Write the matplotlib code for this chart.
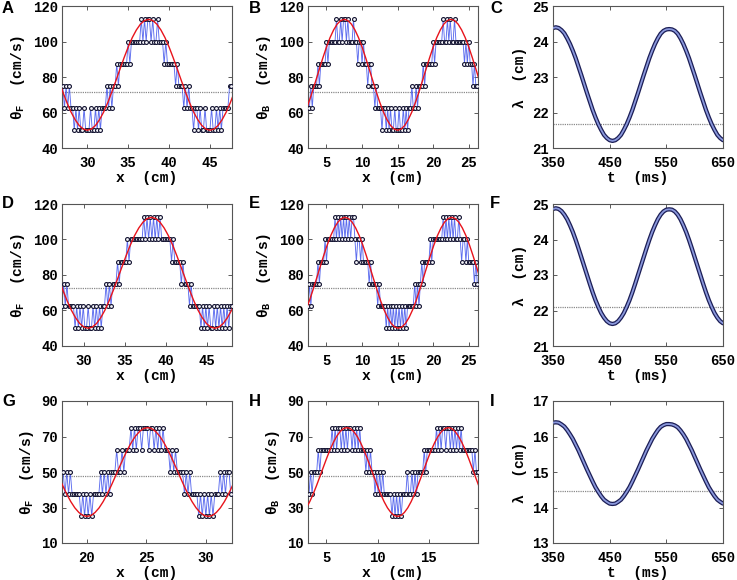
import numpy as np
import matplotlib
matplotlib.use('Agg')
import matplotlib.pyplot as plt

# ---------------- data ----------------
# quantised rate samples: digit k -> level base + 12.5*k, sampled every dx along x
A_levels = ("2121211010" "1001000100" "1010111212" "1223233333" "4344444454"
            "5455454454" "4434333332" "3222121211" "0110100100" "0100101011" "1122")
B_levels = ("1121222323" "3334344444" "5445455454" "4454434434" "3323322121" "1101101010"
            "0100100101" "0112112122" "2323333343" "4444454454" "5445444444" "3434332322")
D_levels = ("1212111101" "0101001001" "0101011212" "1222323333" "4344444444"
            "5454545454" "5444444343" "3332322212" "1111101010" "1001010101" "01011")
E_levels = ("1212222323" "3343444445" "4545454545" "4554344343" "3332322221" "2111101010"
            "1010101010" "1111121212" "3233334344" "4444454545" "4545445434" "4343333232")
G_levels = ("2121211111" "0101010111" "1212121222" "3223233343" "4344344434"
            "4343434333" "2323222212" "1211110101" "0101011121" "21221")
H_levels = ("1212223233" "3333343434" "4343434434" "3434333232" "3221212121"
            "1111010101" "0111211212" "1222232333" "3334343443" "4434343434" "33333332322")

A_x0, A_dx, A_base = 27.0, 0.2, 50.0
B_x0, B_dx, B_base = 2.4, 0.2, 50.0
D_x0, D_dx, D_base = 27.3, 0.2, 50.0
E_x0, E_dx, E_base = 2.4, 0.2, 50.0
G_x0, G_dx, G_base = 18.0, 0.15, 25.0
H_x0, H_dx, H_base = 3.3, 0.15, 25.0
level_step = 12.5

# red model curves (values read at regular x steps)
A_red_x0, A_red_dx = 26.5, 0.5
A_red = [78.0, 71.6, 65.6, 60.3, 56.0, 52.7, 50.7, 50.0,
         50.7, 52.7, 56.0, 60.3, 65.6, 71.6, 78.0, 84.5, 90.9, 96.9, 102.2, 106.5, 109.8, 111.8, 112.5,
         111.8, 109.8, 106.5, 102.2, 96.9, 90.9, 84.5, 78.0, 71.6, 65.6, 60.3, 56.0, 52.7, 50.7, 50.0,
         50.7, 52.7, 56.0, 60.3, 65.6, 71.6]
D_red_x0, D_red_dx = 26.88, 0.5167
D_red = [78.0, 71.6, 65.6, 60.3, 56.0, 52.7, 50.7, 50.0,
         50.7, 52.7, 56.0, 60.3, 65.6, 71.6, 78.0, 84.5, 90.9, 96.9, 102.2, 106.5, 109.8, 111.8, 112.5,
         111.8, 109.8, 106.5, 102.2, 96.9, 90.9, 84.5, 78.0, 71.6, 65.6, 60.3, 56.0, 52.7, 50.7, 50.0,
         50.7, 52.7, 56.0, 60.3, 65.6]
B_red_x0, B_red_dx = 2.0, 0.5
B_red = [60.3, 65.6, 71.6, 78.0, 84.5, 90.9, 96.9, 102.2, 106.5, 109.8, 111.8, 112.5,
         111.8, 109.8, 106.5, 102.2, 96.9, 90.9, 84.5, 78.0, 71.6, 65.6, 60.3, 56.0, 52.7, 50.7, 50.0,
         50.7, 52.7, 56.0, 60.3, 65.6, 71.6, 78.0, 84.5, 90.9, 96.9, 102.2, 106.5, 109.8, 111.8, 112.5,
         111.8, 109.8, 106.5, 102.2, 96.9, 90.9, 84.5, 78.0]
E_red_x0, E_red_dx = 2.1, 0.5
E_red = [60.3, 65.6, 71.6, 78.0, 84.5, 90.9, 96.9, 102.2, 106.5, 109.8, 111.8, 112.5,
         111.8, 109.8, 106.5, 102.2, 96.9, 90.9, 84.5, 78.0, 71.6, 65.6, 60.3, 56.0, 52.7, 50.7, 50.0,
         50.7, 52.7, 56.0, 60.3, 65.6, 71.6, 78.0, 84.5, 90.9, 96.9, 102.2, 106.5, 109.8, 111.8, 112.5,
         111.8, 109.8, 106.5, 102.2, 96.9, 90.9, 84.5, 78.0]
G_red_x0, G_red_dx = 17.62, 0.34
G_red = [47.4, 42.3, 37.5, 33.3, 29.8, 27.2, 25.5, 25.0,
         25.5, 27.2, 29.8, 33.3, 37.5, 42.3, 47.4, 52.6, 57.7, 62.5, 66.7, 70.2, 72.8, 74.5, 75.0,
         74.5, 72.8, 70.2, 66.7, 62.5, 57.7, 52.6, 47.4, 42.3, 37.5, 33.3, 29.8, 27.2, 25.5, 25.0,
         25.5, 27.2, 29.8, 33.3, 37.5, 42.3, 47.4]
H_red_x0, H_red_dx = 3.04, 0.33
H_red = [29.8, 33.3, 37.5, 42.3, 47.4, 52.6, 57.7, 62.5, 66.7, 70.2, 72.8, 74.5, 75.0,
         74.5, 72.8, 70.2, 66.7, 62.5, 57.7, 52.6, 47.4, 42.3, 37.5, 33.3, 29.8, 27.2, 25.5, 25.0,
         25.5, 27.2, 29.8, 33.3, 37.5, 42.3, 47.4, 52.6, 57.7, 62.5, 66.7, 70.2, 72.8, 74.5, 75.0,
         74.5, 72.8, 70.2, 66.7, 62.5, 57.7, 52.6, 47.4, 42.3]

# wavelength vs time, every 5 ms from 350 to 650
t0, t_dt = 350, 5
C_lam = [24.38, 24.40, 24.38, 24.32, 24.23, 24.09, 23.93, 23.74, 23.53, 23.29, 23.05, 22.80, 22.55,
         22.31, 22.07, 21.86, 21.67, 21.51, 21.37, 21.28, 21.22, 21.20,
         21.22, 21.28, 21.37, 21.51, 21.67, 21.86, 22.07, 22.31, 22.55, 22.80, 23.05, 23.29, 23.53,
         23.74, 23.93, 24.09, 24.22, 24.30, 24.34, 24.35,
         24.34, 24.30, 24.22, 24.09, 23.93, 23.74, 23.53, 23.29, 23.05, 22.80, 22.55, 22.31, 22.07,
         21.86, 21.67, 21.51, 21.37, 21.28, 21.22]
F_lam = [24.86, 24.88, 24.86, 24.80, 24.70, 24.57, 24.40, 24.21, 23.99, 23.75, 23.50, 23.25, 23.00,
         22.75, 22.51, 22.29, 22.10, 21.93, 21.80, 21.70, 21.64, 21.62,
         21.64, 21.70, 21.80, 21.93, 22.10, 22.29, 22.51, 22.75, 23.00, 23.25, 23.50, 23.75, 23.99,
         24.21, 24.40, 24.57, 24.70, 24.79, 24.84, 24.85,
         24.84, 24.79, 24.70, 24.57, 24.40, 24.21, 23.99, 23.75, 23.50, 23.25, 23.00, 22.75, 22.51,
         22.29, 22.10, 21.93, 21.80, 21.70, 21.64]
I_lam = [16.39, 16.40, 16.39, 16.34, 16.28, 16.18, 16.06, 15.93, 15.77, 15.61, 15.43, 15.25, 15.07,
         14.90, 14.73, 14.57, 14.44, 14.32, 14.22, 14.16, 14.11, 14.10,
         14.11, 14.16, 14.22, 14.32, 14.44, 14.57, 14.73, 14.90, 15.07, 15.25, 15.43, 15.61, 15.77,
         15.93, 16.06, 16.18, 16.27, 16.32, 16.35, 16.35,
         16.34, 16.31, 16.26, 16.17, 16.06, 15.93, 15.77, 15.61, 15.43, 15.25, 15.07, 14.90, 14.73,
         14.57, 14.44, 14.32, 14.22, 14.16, 14.11]

# mean (dotted) lines
means = {'A': 71.3, 'B': 71.3, 'C': 21.69, 'D': 72.7, 'E': 72.7, 'F': 22.11,
         'G': 47.6, 'H': 47.6, 'I': 14.47}

# axis ranges and ticks
xlims = {'A': (26.9, 47.7), 'B': (2.4, 26.3), 'D': (27.3, 48.1), 'E': (2.4, 26.3),
         'G': (17.9, 32.2), 'H': (3.2, 19.8), 'C': (350, 650), 'F': (350, 650), 'I': (350, 650)}
xticks = {'A': [30, 35, 40, 45], 'D': [30, 35, 40, 45], 'B': [5, 10, 15, 20, 25],
          'E': [5, 10, 15, 20, 25], 'G': [20, 25, 30], 'H': [5, 10, 15],
          'C': [350, 450, 550, 650], 'F': [350, 450, 550, 650], 'I': [350, 450, 550, 650]}
yticks = {'A': [40, 60, 80, 100, 120], 'B': [40, 60, 80, 100, 120], 'D': [40, 60, 80, 100, 120],
          'E': [40, 60, 80, 100, 120], 'G': [10, 30, 50, 70, 90], 'H': [10, 30, 50, 70, 90],
          'C': [21, 22, 23, 24, 25], 'F': [21, 22, 23, 24, 25], 'I': [13, 14, 15, 16, 17]}

# ---------------- figure ----------------
W, Hpx = 737, 580
fig = plt.figure(figsize=(W / 100, Hpx / 100), dpi=100)

col_left = [62, 308, 553]
row_top = [6, 204, 401]
ax_w, ax_h = 170, 142

mono = 'Liberation Mono'
labfont = dict(family=mono, weight='bold', size=10.5)

panels = [['A', 'B', 'C'], ['D', 'E', 'F'], ['G', 'H', 'I']]
rate = {
    'A': (A_levels, A_x0, A_dx, A_base, A_red, A_red_x0, A_red_dx),
    'B': (B_levels, B_x0, B_dx, B_base, B_red, B_red_x0, B_red_dx),
    'D': (D_levels, D_x0, D_dx, D_base, D_red, D_red_x0, D_red_dx),
    'E': (E_levels, E_x0, E_dx, E_base, E_red, E_red_x0, E_red_dx),
    'G': (G_levels, G_x0, G_dx, G_base, G_red, G_red_x0, G_red_dx),
    'H': (H_levels, H_x0, H_dx, H_base, H_red, H_red_x0, H_red_dx),
}
lam = {'C': C_lam, 'F': F_lam, 'I': I_lam}
ylab = {'A': 'F', 'D': 'F', 'G': 'F', 'B': 'B', 'E': 'B', 'H': 'B'}

for r in range(3):
    for c in range(3):
        key = panels[r][c]
        left = col_left[c] / W
        bottom = 1 - (row_top[r] + ax_h) / Hpx
        ax = fig.add_axes([left, bottom, ax_w / W, ax_h / Hpx])
        ax.axhline(means[key], color='#8a8a8a', lw=0.9, ls=(0, (1, 0.8)), zorder=1)
        if key in rate:
            s, x0, dx, base, red, rx0, rdx = rate[key]
            vals = np.array([base + level_step * int(ch) for ch in s])
            xs = x0 + dx * np.arange(len(vals))
            ax.plot(xs, vals, '-', color='#3448ea', lw=0.65, alpha=0.8, zorder=2)
            ax.plot(xs, vals, 'o', ms=2.8, mfc='#f4f4f8', mec='#121230', mew=0.8, zorder=3)
            rx = rx0 + rdx * np.arange(len(red))
            ax.plot(rx, red, color='#e8141c', lw=1.0, zorder=4)
            ax.set_xlabel('x  (cm)', fontdict=labfont, labelpad=1)
            ax.set_ylabel(r'$\mathregular{θ_%s}$  (cm/s)' % ylab[key], fontdict=labfont, labelpad=4)
        else:
            ys = np.array(lam[key])
            ts = t0 + t_dt * np.arange(len(ys))
            ax.plot(ts, ys, color='#1b1d55', lw=3.1, solid_capstyle='round', zorder=2)
            ax.plot(ts, ys, color='#8a98dc', lw=1.3, solid_capstyle='round', zorder=3)
            ax.set_xlabel('t  (ms)', fontdict=labfont, labelpad=1)
            ax.set_ylabel('λ  (cm)', fontdict=labfont, labelpad=4)
        ax.set_xlim(*xlims[key])
        ax.set_ylim(yticks[key][0], yticks[key][-1])
        ax.set_xticks(xticks[key])
        ax.set_yticks(yticks[key])
        ax.tick_params(direction='in', length=3, width=0.6, top=True, right=True,
                       colors='#404040', labelcolor='black')
        ax.tick_params(axis='x', pad=5.5)
        ax.tick_params(axis='y', pad=3)
        for lab in ax.get_xticklabels() + ax.get_yticklabels():
            lab.set_fontfamily(mono)
            lab.set_fontweight('bold')
            lab.set_fontsize(10)
        for sp in ax.spines.values():
            sp.set_color('#555555')
            sp.set_linewidth(0.8)
        # panel letter
        lx = [2, 249, 490][c]
        ly = [1, 196, 394][r]
        fig.text(lx / W, 1 - ly / Hpx, key, ha='left', va='top',
                 fontfamily='Liberation Sans', fontweight='bold', fontsize=12)

fig.savefig('out.png', dpi=100)
